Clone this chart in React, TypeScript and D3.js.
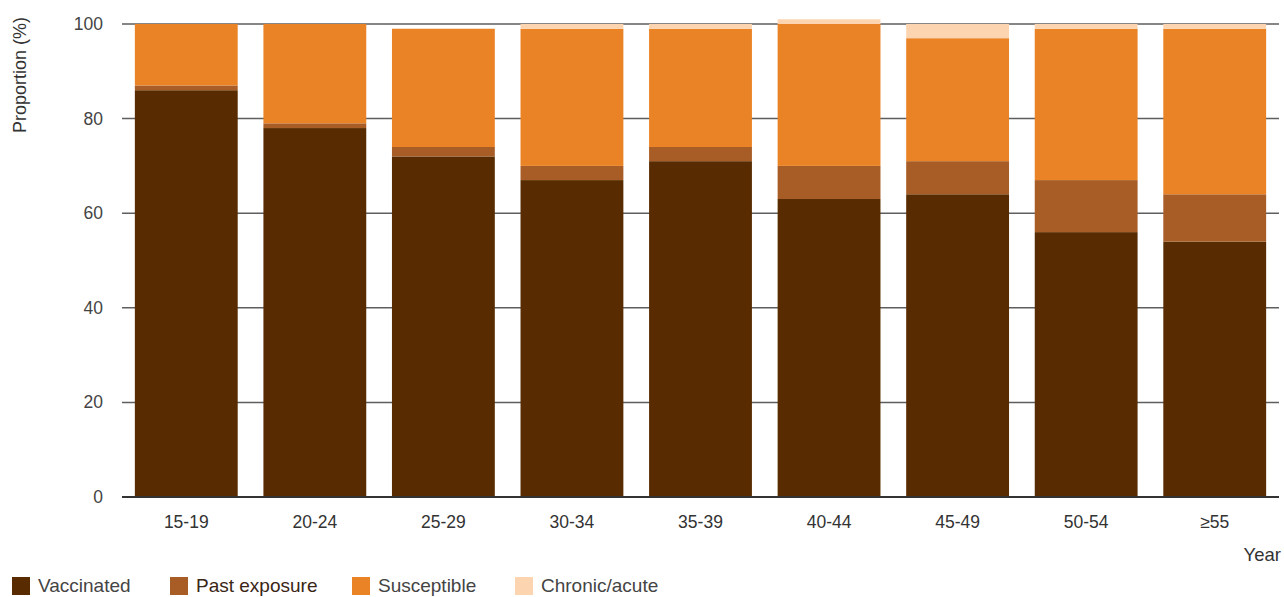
import React from "react";
import * as d3 from "d3";

const categories = ["15-19", "20-24", "25-29", "30-34", "35-39", "40-44", "45-49", "50-54", "≥55"];
const vaccinated = [86, 78, 72, 67, 71, 63, 64, 56, 54];
const pastExposure = [1, 1, 2, 3, 3, 7, 7, 11, 10];
const susceptible = [13, 21, 25, 29, 25, 30, 26, 32, 35];
const chronicAcute = [0, 0, 0, 1, 1, 1, 3, 1, 1];
const seriesNames = ["Vaccinated", "Past exposure", "Susceptible", "Chronic/acute"];
const seriesColors = ["#582c00", "#a85d26", "#ea8325", "#fcd5b0"];
const yTicks = [0, 20, 40, 60, 80, 100];

const W = 1284;
const H = 597;

export default function App() {
  const rows = categories.map((c, i) => ({
    cat: c,
    "Vaccinated": vaccinated[i],
    "Past exposure": pastExposure[i],
    "Susceptible": susceptible[i],
    "Chronic/acute": chronicAcute[i],
  }));
  const stack = d3.stack<any>().keys(seriesNames)(rows);
  const x = d3.scaleBand().domain(categories).range([122, 1279]).paddingInner(0.2).paddingOuter(0.1);
  const y = d3.scaleLinear().domain([0, 100]).range([497, 24]);
  const font = "'Liberation Sans', Arial, Helvetica, sans-serif";
  const legendX = [12, 170, 352, 515];

  return (
    <svg width={W} height={H} style={{ position: "absolute", left: 0, top: 0 }} fontFamily={font}>
      {yTicks.filter((t) => t > 0).map((t) => (
        <line key={t} x1={122} x2={1279} y1={y(t)} y2={y(t)} stroke="#5e5e5e" strokeWidth={1.5} />
      ))}
      {yTicks.map((t) => (
        <text key={"yl" + t} x={103} y={y(t) + 6} textAnchor="end" fontSize={17.5} fill="#444">{t}</text>
      ))}
      {stack.map((s, si) => (
        <g key={s.key} fill={seriesColors[si]}>
          {s.map((d, i) => (
            <rect key={i} x={x(categories[i])} width={x.bandwidth()} y={y(d[1])} height={Math.max(0, y(d[0]) - y(d[1]))} />
          ))}
        </g>
      ))}
      <line x1={122} x2={1279} y1={497} y2={497} stroke="#333" strokeWidth={2} />
      {categories.map((c) => (
        <text key={c} x={(x(c) as number) + x.bandwidth() / 2} y={528} textAnchor="middle" fontSize={17.5} fill="#333">{c}</text>
      ))}
      <text x={1281} y={561} textAnchor="end" fontSize={18.5} fill="#333">Year</text>
      <text transform="translate(26,75) rotate(-90)" textAnchor="middle" fontSize={18} fill="#333">Proportion (%)</text>
      {seriesNames.map((n, i) => (
        <g key={n}>
          <rect x={legendX[i]} y={577} width={18} height={18} fill={seriesColors[i]} />
          <text x={legendX[i] + 26} y={592} fontSize={19} fill={i === 1 ? "#3a2616" : "#444"}>{n}</text>
        </g>
      ))}
    </svg>
  );
}
